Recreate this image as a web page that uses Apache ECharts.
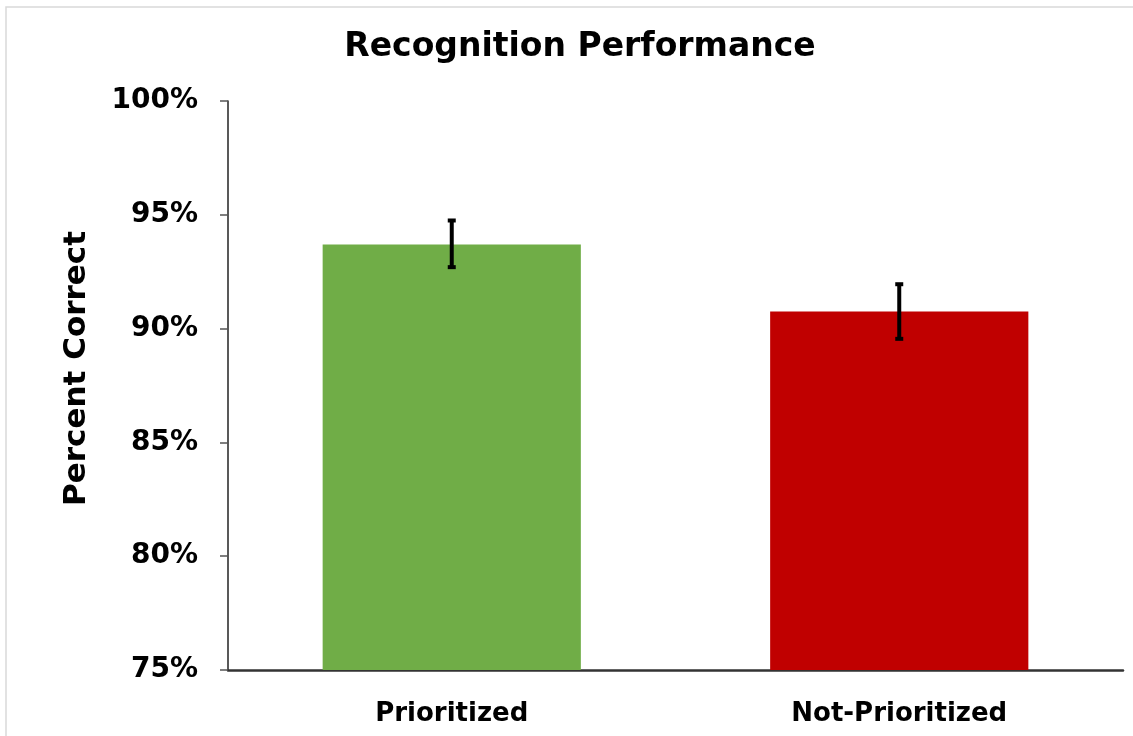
<!DOCTYPE html>
<html>
<head>
<meta charset="utf-8">
<script src="https://cdn.jsdelivr.net/npm/echarts@6/dist/echarts.min.js"></script>
<style>
html,body{margin:0;padding:0;background:#fff;}
#chart{width:1133px;height:736px;}
</style>
</head>
<body>
<div id="chart"></div>
<script>
const categories = ['Prioritized', 'Not-Prioritized'];
const values = [93.7, 90.75];
const errLow = [92.7, 89.55];
const errHigh = [94.75, 91.95];
const barColors = ['#70AD47', '#C00000'];
const yTicks = [75, 80, 85, 90, 95, 100];

const chart = echarts.init(document.getElementById('chart'), null, {renderer: 'canvas'});
const FONT = 'DejaVu Sans';

const option = {
  backgroundColor: '#ffffff',
  animation: false,
  graphic: [{
    type: 'rect',
    shape: {x: 6, y: 7, width: 1140, height: 740},
    style: {fill: 'none', stroke: '#d9d9d9', lineWidth: 1.5},
    silent: true,
    z: -1
  }],
  title: {
    text: 'Recognition Performance',
    left: 575,
    top: 26,
    textAlign: 'center',
    textStyle: {fontFamily: FONT, fontWeight: 'bold', fontSize: 33, color: '#000'}
  },
  grid: {left: 228, right: 10, top: 101, bottom: 66, containLabel: false},
  xAxis: {
    type: 'category',
    data: categories,
    axisLine: {lineStyle: {color: '#333', width: 2.5}},
    axisTick: {show: false},
    axisLabel: {fontFamily: FONT, fontWeight: 'bold', fontSize: 26, color: '#000', margin: 31}
  },
  yAxis: {
    type: 'value',
    min: yTicks[0],
    max: yTicks[yTicks.length - 1],
    interval: 5,
    name: 'Percent Correct',
    nameLocation: 'middle',
    nameGap: 136,
    nameTextStyle: {fontFamily: FONT, fontWeight: 'bold', fontSize: 31, color: '#000', padding: [0, 0, 0, 34]},
    axisLine: {show: true, lineStyle: {color: '#222', width: 1.5}},
    axisTick: {show: true, length: 8, lineStyle: {color: '#555', width: 1.5}},
    splitLine: {show: false},
    axisLabel: {
      fontFamily: FONT, fontWeight: 'bold', fontSize: 28, color: '#000', margin: 30,
      formatter: '{value}%'
    }
  },
  series: [{
    type: 'bar',
    barWidth: '57.7%',
    data: values.map((v, i) => ({value: v, itemStyle: {color: barColors[i]}})),
    z: 2
  }, {
    type: 'custom',
    z: 5,
    data: categories.map((c, i) => [i, errLow[i], errHigh[i]]),
    renderItem: function (params, api) {
      const idx = api.value(0);
      const lo = api.coord([idx, api.value(1)]);
      const hi = api.coord([idx, api.value(2)]);
      const hw = 4;
      const style = {stroke: '#000', lineWidth: 4};
      return {
        type: 'group',
        children: [
          {type: 'line', shape: {x1: hi[0], y1: hi[1], x2: lo[0], y2: lo[1]}, style: style},
          {type: 'line', shape: {x1: hi[0] - hw, y1: hi[1], x2: hi[0] + hw, y2: hi[1]}, style: style},
          {type: 'line', shape: {x1: lo[0] - hw, y1: lo[1], x2: lo[0] + hw, y2: lo[1]}, style: style}
        ]
      };
    }
  }]
};
chart.setOption(option);
</script>
</body>
</html>
